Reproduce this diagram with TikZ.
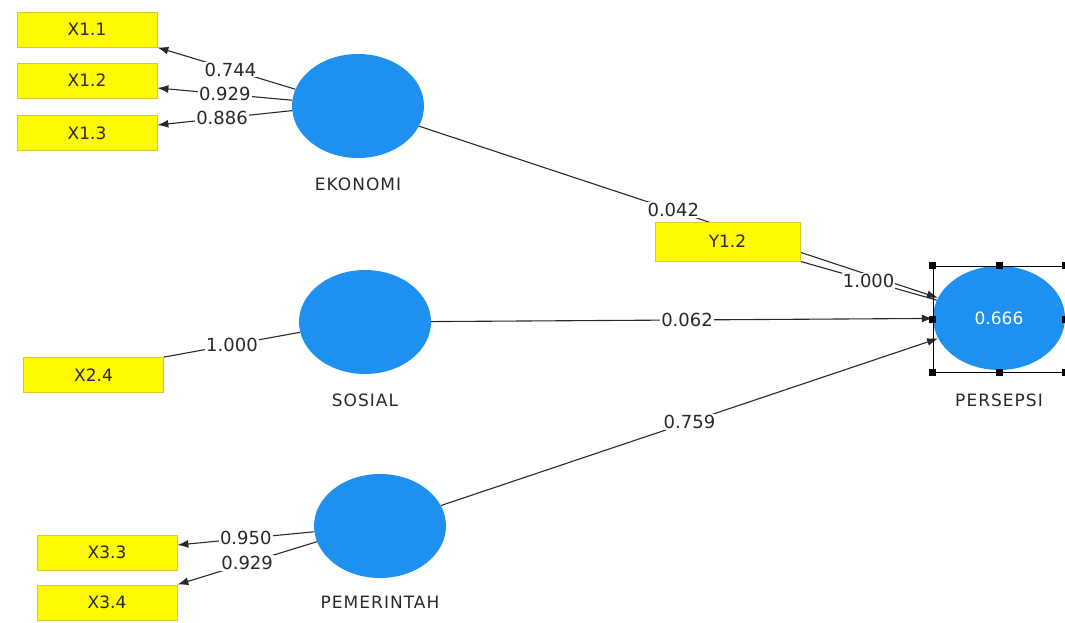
\documentclass[tikz,border=0pt]{standalone}
\usepackage{fontspec}
\setmainfont{DejaVu Sans}
\newfontfamily\lvfont{DejaVu Sans}[LetterSpace=6.0]
\usetikzlibrary{shapes.geometric,positioning,backgrounds,arrows.meta}
\definecolor{lvblue}{RGB}{30,144,240}
\definecolor{mvyellow}{RGB}{255,250,0}
\definecolor{mvedge}{RGB}{220,200,40}
\definecolor{inkgray}{RGB}{40,40,40}

\begin{document}
\begin{tikzpicture}[x=1pt,y=-1pt,>={Latex[length=11pt,width=8pt]}]
  \tikzset{
    latent/.style={ellipse,fill=lvblue,minimum width=132pt,minimum height=104pt,inner sep=0pt},
    manifest/.style={rectangle,fill=mvyellow,draw=mvedge,line width=0.8pt,text=inkgray,
      minimum width=140pt,minimum height=35pt,inner sep=0pt,font=\fontsize{17}{19}\selectfont},
    weight/.style={fill=white,inner sep=1pt,text=inkgray,font=\fontsize{18}{20}\selectfont},
    lvname/.style={text=inkgray,font=\lvfont\fontsize{17}{19}\selectfont},
    handle/.style={fill=black,minimum size=7pt,inner sep=0pt},
    link/.style={line width=1.1pt,draw=inkgray}
  }
  \useasboundingbox (0,0) rectangle (1065,623);

  \node[manifest] (X-1-1) at (87,29.5) {X1.1};
  \node[manifest] (X-1-2) at (87,80.5) {X1.2};
  \node[manifest] (X-1-3) at (87,133) {X1.3};
  \node[manifest] (X-2-4) at (93.5,375) {X2.4};
  \node[manifest] (X-3-3) at (107,552.5) {X3.3};
  \node[manifest] (X-3-4) at (107,602.5) {X3.4};
  \node[manifest,minimum width=145pt,minimum height=39pt] (Y-1-2) at (727.5,241.5) {Y1.2};

  \node[latent] (LV-eko) at (358,106) {};
  \node[latent] (LV-sos) at (365,322) {};
  \node[latent] (LV-pem) at (380,526) {};
  \node[latent,text=white,font=\fontsize{17}{19}\selectfont] (LV-per) at (999,318) {0.666};

  \node[lvname,below=16pt of LV-eko] (N-eko) {EKONOMI};
  \node[lvname,below=16pt of LV-sos] (N-sos) {SOSIAL};
  \node[lvname,below=14pt of LV-pem] (N-pem) {PEMERINTAH};
  \node[lvname,below=20pt of LV-per] (N-per) {PERSEPSI};

  \node[draw,line width=0.9pt,minimum width=132pt,minimum height=106pt,inner sep=0pt] (sel) at (999,319) {};
  \foreach \a in {north west,north,north east,west,east,south west,south,south east}
    \node[handle] at (sel.\a) {};

  \begin{pgfonlayer}{background}
    \draw[link,->] (LV-eko.165) -- node[weight,pos=0.47]{0.744} (X-1-1.south east);
    \draw[link,->] (LV-eko.175) -- node[weight,pos=0.5]{0.929} ([yshift=-7.5pt]X-1-2.east);
    \draw[link,->] (LV-eko.184) -- node[weight,pos=0.52]{0.886} ([yshift=8pt]X-1-3.east);
    \draw[link] (LV-sos.189) -- node[weight]{1.000} (X-2-4.north east);
    \draw[link,->] (LV-pem.185) -- node[weight]{0.950} ([yshift=7.5pt]X-3-3.east);
    \draw[link,->] (LV-pem.194) -- node[weight]{0.929} (X-3-4.north east);
    \draw[link,->] (LV-eko) -- node[weight,pos=0.49]{0.042} (LV-per);
    \draw[link,->] (LV-sos) -- node[weight,pos=0.51]{0.062} (LV-per);
    \draw[link,->] (LV-pem) -- node[weight]{0.759} (LV-per);
    \draw[link] (Y-1-2.south east) -- node[weight]{1.000} (LV-per.164);
  \end{pgfonlayer}
\end{tikzpicture}
\end{document}
